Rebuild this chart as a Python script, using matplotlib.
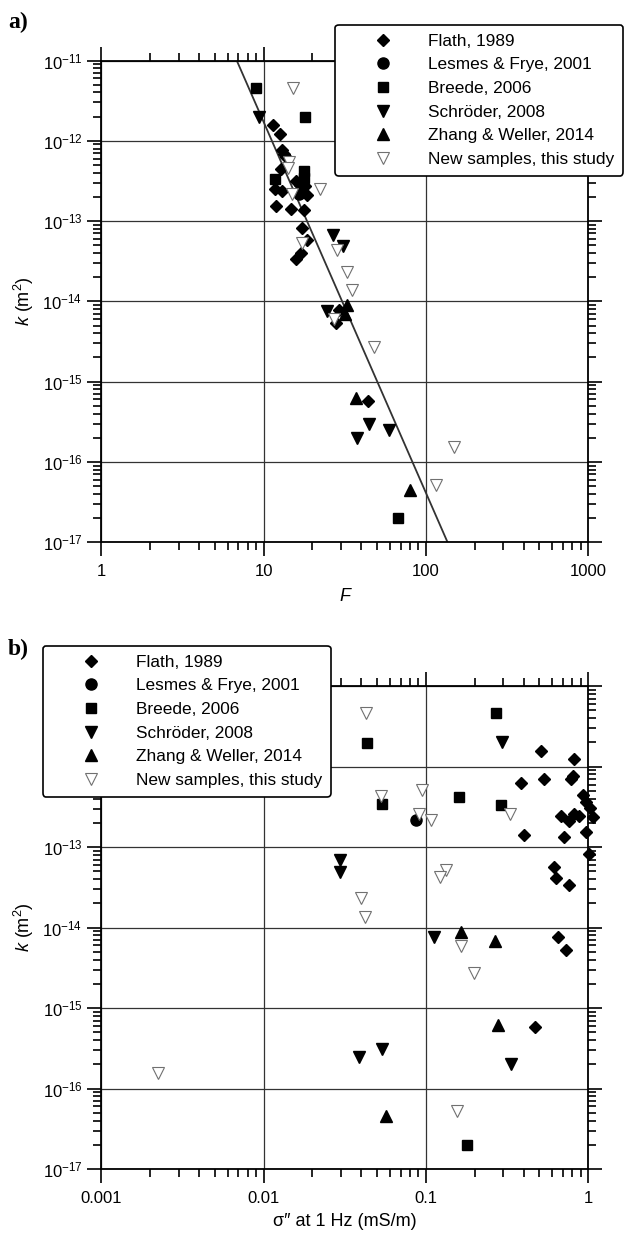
import numpy as np
import matplotlib
matplotlib.use("Agg")
import matplotlib.pyplot as plt
from matplotlib.ticker import LogLocator, NullFormatter

plt.rcParams['font.family'] = ['Liberation Sans', 'DejaVu Sans']
plt.rcParams['mathtext.fontset'] = 'custom'
plt.rcParams['mathtext.rm'] = 'Liberation Sans'
plt.rcParams['mathtext.it'] = 'Liberation Sans:italic'

# ---- data ----
# panel a: formation factor F vs permeability k (m2)
flath_F = [11.5, 12.7, 13.0, 13.4, 13.8, 12.9, 15.9, 16.7, 17.9, 17.3, 18.6, 11.8,
           13.0, 11.9, 14.7, 17.7, 17.3, 18.5, 17.1, 15.8, 29.1, 28.0, 44.2]
flath_kF = [1.56e-12, 1.21e-12, 7.7e-13, 6.9e-13, 6.3e-13, 4.4e-13, 3.2e-13, 2.85e-13,
            2.7e-13, 2.35e-13, 2.1e-13, 2.5e-13, 2.35e-13, 1.53e-13, 1.42e-13, 1.36e-13,
            8.3e-14, 5.8e-14, 4.0e-14, 3.4e-14, 7.7e-15, 5.3e-15, 5.8e-16]
lesmes_F = [16.5]
lesmes_kF = [2.2e-13]
breede_F = [9.0, 18.1, 17.7, 17.7, 11.7, 67.8]
breede_kF = [4.6e-12, 2.0e-12, 4.2e-13, 3.4e-13, 3.3e-13, 2.0e-17]
schroder_F = [9.4, 26.8, 30.9, 24.7, 44.8, 59.3, 37.9]
schroder_kF = [2.0e-12, 6.8e-14, 4.9e-14, 7.6e-15, 3.0e-16, 2.5e-16, 2.0e-16]
zhang_F = [32.7, 31.6, 36.9, 80.0]
zhang_kF = [8.9e-15, 7.0e-15, 6.2e-16, 4.5e-17]
new_F = [15.2, 14.4, 14.1, 15.0, 22.2, 17.2, 28.4, 32.7, 35.0, 27.1, 47.9, 150.0, 115.0]
new_kF = [4.6e-12, 5.4e-13, 4.6e-13, 2.2e-13, 2.54e-13, 5.3e-14, 4.3e-14, 2.3e-14,
          1.4e-14, 6.1e-15, 2.7e-15, 1.52e-16, 5.1e-17]

# fitted power law k = fit_a * F^-fit_b
fit_a = 7.2e-8
fit_b = 4.62

# panel b: imaginary conductivity at 1 Hz (mS/m) vs k (m2)
flath_s = [0.509, 0.815, 0.384, 0.535, 0.807, 0.789, 0.93, 0.97, 1.03, 0.684, 0.815,
           0.767, 0.875, 1.07, 0.402, 0.708, 0.977, 1.01, 0.62, 0.634, 0.762, 0.649,
           0.731, 0.468]
flath_ks = [1.56e-12, 1.23e-12, 6.3e-13, 7.1e-13, 7.7e-13, 7.0e-13, 4.4e-13, 3.6e-13,
            3.1e-13, 2.45e-13, 2.6e-13, 2.1e-13, 2.45e-13, 2.4e-13, 1.41e-13, 1.34e-13,
            1.52e-13, 8.3e-14, 5.7e-14, 4.1e-14, 3.4e-14, 7.7e-15, 5.2e-15, 5.8e-16]
lesmes_s = [0.0875]
lesmes_ks = [2.2e-13]
breede_s = [0.0432, 0.271, 0.054, 0.161, 0.291, 0.179]
breede_ks = [1.95e-12, 4.6e-12, 3.4e-13, 4.2e-13, 3.3e-13, 2.0e-17]
schroder_s = [0.294, 0.0295, 0.0295, 0.112, 0.0387, 0.0538, 0.333]
schroder_ks = [2.0e-12, 6.9e-14, 4.9e-14, 7.6e-15, 2.5e-16, 3.1e-16, 2.0e-16]
zhang_s = [0.165, 0.267, 0.278, 0.057]
zhang_ks = [8.9e-15, 6.9e-15, 6.2e-16, 4.6e-17]
new_s = [0.0428, 0.0532, 0.0945, 0.328, 0.091, 0.107, 0.133, 0.123, 0.0398, 0.0422,
         0.164, 0.198, 0.00225, 0.155]
new_ks = [4.67e-12, 4.3e-13, 5.2e-13, 2.6e-13, 2.6e-13, 2.2e-13, 5.2e-14, 4.2e-14,
          2.3e-14, 1.37e-14, 5.9e-15, 2.7e-15, 1.55e-16, 5.2e-17]

labels = ['Flath, 1989', 'Lesmes & Frye, 2001', 'Breede, 2006',
          'Schröder, 2008', 'Zhang & Weller, 2014', 'New samples, this study']

ytick_vals = [1e-17, 1e-16, 1e-15, 1e-14, 1e-13, 1e-12, 1e-11]
ytick_labels = ['10$^{-17}$', '10$^{-16}$', '10$^{-15}$', '10$^{-14}$',
                '10$^{-13}$', '10$^{-12}$', '10$^{-11}$']
xa_ticks = [1, 10, 100, 1000]
xa_labels = ['1', '10', '100', '1000']
xb_ticks = [0.001, 0.01, 0.1, 1]
xb_labels = ['0.001', '0.01', '0.1', '1']

styles = [
    dict(marker='D', ms=6.5, mfc='black', mec='black'),
    dict(marker='o', ms=8, mfc='black', mec='black'),
    dict(marker='s', ms=6.5, mfc='black', mec='black'),
    dict(marker='v', ms=8, mfc='black', mec='black'),
    dict(marker='^', ms=8, mfc='black', mec='black'),
    dict(marker='v', ms=8.5, mfc='white', mec='#707070', mew=0.8),
]

fig = plt.figure(figsize=(6.25, 12.35), dpi=100)
ax_a = fig.add_axes([0.162, 0.561, 0.779, 0.390])
ax_b = fig.add_axes([0.162, 0.0534, 0.779, 0.391])


def style_axes(ax, xlim):
    ax.set_xscale('log')
    ax.set_yscale('log')
    ax.set_xlim(*xlim)
    ax.set_ylim(1e-17, 1e-11)
    ax.grid(True, which='major', color='#333333', lw=0.9)
    ax.set_axisbelow(True)
    for s in ax.spines.values():
        s.set_linewidth(1.3)
    ax.xaxis.set_minor_locator(LogLocator(base=10, subs=np.arange(2, 10), numticks=100))
    ax.yaxis.set_minor_locator(LogLocator(base=10, subs=np.arange(2, 10), numticks=100))
    ax.xaxis.set_minor_formatter(NullFormatter())
    ax.yaxis.set_minor_formatter(NullFormatter())
    ax.tick_params(which='both', direction='out', top=True, right=True,
                   labelsize=12, width=1.2, color='black')
    ax.tick_params(which='major', length=10)
    ax.tick_params(axis='x', which='major', pad=6)
    ax.tick_params(which='minor', length=5.5)
    ax.set_yticks(ytick_vals, ytick_labels)
    ax.set_ylabel(r'$k$ (m$^2$)', fontsize=13)
    ax.yaxis.set_label_coords(-0.135, 0.5)


# ---- panel a ----
style_axes(ax_a, (1, 1000))
ax_a.set_xticks(xa_ticks, xa_labels)
F_line = np.logspace(np.log10((fit_a / 1e-11) ** (1 / fit_b)),
                     np.log10((fit_a / 1e-17) ** (1 / fit_b)), 50)
ax_a.plot(F_line, fit_a * F_line ** -fit_b, color='#333333', lw=1.3, zorder=2)

series_a = [(flath_F, flath_kF), (lesmes_F, lesmes_kF), (breede_F, breede_kF),
            (schroder_F, schroder_kF), (zhang_F, zhang_kF), (new_F, new_kF)]
handles = []
for (x, y), st, lab in zip(series_a, styles, labels):
    h, = ax_a.plot(x, y, ls='none', label=lab, clip_on=False, zorder=3, **st)
    handles.append(h)
ax_a.set_xlabel('F', fontstyle='italic', fontsize=13, labelpad=6)

leg_kw = dict(fontsize=12.4, frameon=True, fancybox=True, framealpha=1,
              borderpad=0.5, labelspacing=0.5, handlelength=4.6,
              handletextpad=0.31, borderaxespad=0, bbox_transform=fig.transFigure)
leg_a = ax_a.legend(handles=handles, loc='upper right',
                    bbox_to_anchor=(623 / 625, 1 - 25 / 1235), **leg_kw)
leg_a.get_frame().set_edgecolor('black')
leg_a.get_frame().set_linewidth(1.2)
leg_a.set_zorder(10)

# ---- panel b ----
style_axes(ax_b, (0.001, 1))
ax_b.set_xticks(xb_ticks, xb_labels)
series_b = [(flath_s, flath_ks), (lesmes_s, lesmes_ks), (breede_s, breede_ks),
            (schroder_s, schroder_ks), (zhang_s, zhang_ks), (new_s, new_ks)]
handles_b = []
for (x, y), st, lab in zip(series_b, styles, labels):
    h, = ax_b.plot(x, y, ls='none', label=lab, clip_on=False, zorder=3, **st)
    handles_b.append(h)
ax_b.set_xlabel('σ″ at 1 Hz (mS/m)', fontsize=13, labelpad=5)
leg_b = ax_b.legend(handles=handles_b, loc='upper left',
                    bbox_to_anchor=(43 / 625, 1 - 646 / 1235), **leg_kw)
leg_b.get_frame().set_edgecolor('black')
leg_b.get_frame().set_linewidth(1.2)
leg_b.set_zorder(10)

fig.text(8 / 625, 1 - 28 / 1235, 'a)', family='Liberation Serif', fontweight='bold', fontsize=17)
fig.text(8 / 625, 1 - 655 / 1235, 'b)', family='Liberation Serif', fontweight='bold', fontsize=17)

fig.savefig('out.png', dpi=100)
